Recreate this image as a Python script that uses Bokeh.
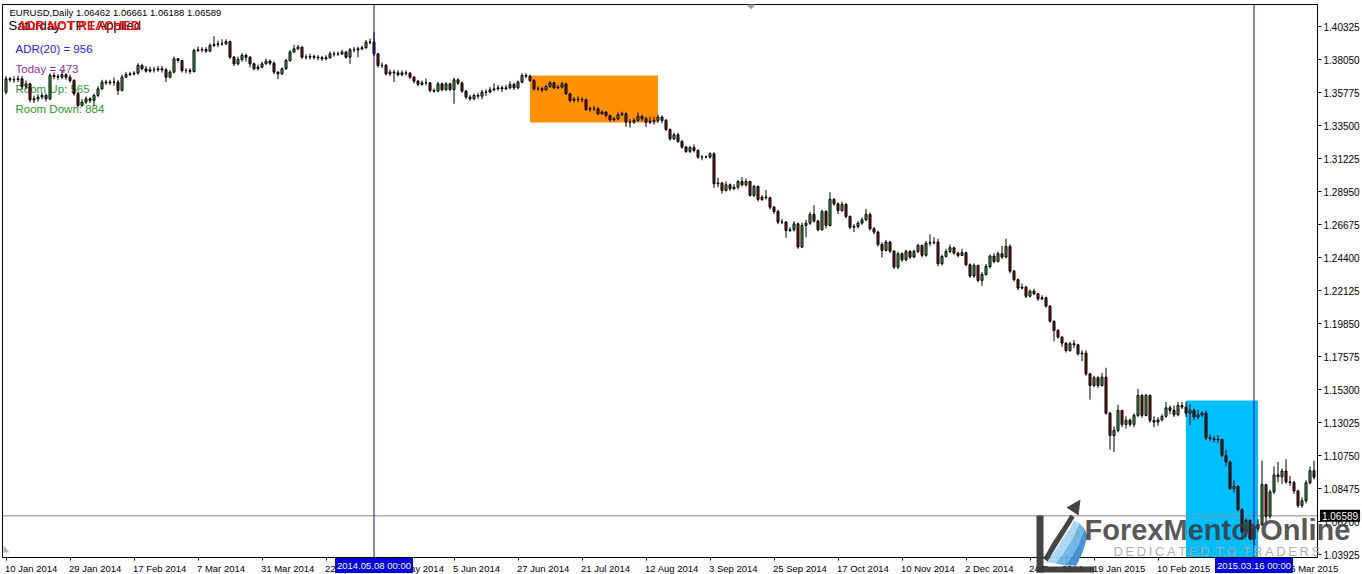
from bokeh.plotting import figure
from bokeh.models import (ColumnDataSource, Range1d, FixedTicker, PrintfTickFormatter,
                          Span, Label, BoxAnnotation, PolyAnnotation)
from bokeh.embed import file_html
from bokeh.resources import INLINE

# ---------------- data (prices x 10000) ----------------
symbol_text = "EURUSD,Daily"
last_ohlc = ["1.06462", "1.06661", "1.06188", "1.06589"]
current_price = 1.06589

first_open = 13580
close_pts = [
    13672, 13665, 13667, 13672, 13619, 13637, 13527, 13534, 13546, 13557,
    13534, 13695, 13688, 13683, 13700, 13683, 13660, 13569, 13488, 13511,
    13534, 13523, 13557, 13603, 13649, 13644, 13649, 13649, 13592, 13683,
    13702, 13706, 13711, 13764, 13741, 13725, 13734, 13734, 13741, 13734,
    13683, 13718, 13810, 13798, 13729, 13729, 13722, 13867, 13872, 13874,
    13863, 13902, 13909, 13913, 13913, 13929, 13821, 13775, 13805, 13833,
    13821, 13775, 13741, 13752, 13775, 13794, 13780, 13718, 13706, 13741,
    13798, 13856, 13879, 13890, 13821, 13821, 13826, 13821, 13817, 13810,
    13817, 13844, 13844, 13844, 13856, 13821, 13872, 13872, 13879, 13886,
    13925, 13925, 13844, 13764, 13764, 13706, 13718, 13713, 13700, 13713,
    13711, 13683, 13656, 13633, 13644, 13644, 13592, 13587, 13637, 13596,
    13637, 13598, 13665, 13642, 13587, 13546, 13534, 13557, 13552, 13580,
    13580, 13596, 13603, 13610, 13603, 13610, 13633, 13610, 13649, 13695,
    13690, 13660, 13603, 13603, 13596, 13619, 13644, 13610, 13615, 13637,
    13569, 13523, 13530, 13530, 13527, 13461, 13465, 13465, 13431, 13442,
    13419, 13389, 13396, 13424, 13431, 13373, 13373, 13385, 13412, 13396,
    13373, 13380, 13385, 13408, 13385, 13322, 13258, 13286, 13240, 13201,
    13171, 13198, 13178, 13132, 13132, 13132, 13155, 12948, 12953, 12902,
    12941, 12914, 12925, 12964, 12941, 12964, 12868, 12930, 12840, 12856,
    12852, 12787, 12757, 12684, 12684, 12626, 12631, 12672, 12512, 12661,
    12677, 12737, 12691, 12631, 12757, 12661, 12840, 12810, 12764, 12806,
    12723, 12649, 12654, 12677, 12700, 12737, 12638, 12615, 12530, 12489,
    12546, 12484, 12374, 12466, 12424, 12482, 12443, 12482, 12523, 12455,
    12538, 12542, 12546, 12397, 12447, 12482, 12507, 12470, 12454, 12473,
    12390, 12312, 12385, 12282, 12323, 12378, 12450, 12413, 12466, 12443,
    12516, 12346, 12287, 12229, 12235, 12173, 12208, 12190, 12155, 12162,
    12105, 12001, 11937, 11891, 11850, 11799, 11845, 11838, 11776, 11781,
    11638, 11558, 11611, 11558, 11615, 11367, 11213, 11248, 11386, 11289,
    11318, 11290, 11351, 11489, 11351, 11489, 11317, 11305, 11321, 11344,
    11404, 11386, 11356, 11420, 11409, 11367, 11386, 11340, 11356, 11367,
    11197, 11190, 11183, 11186, 11076, 11030, 10846, 10862, 10701, 10547,
    10628, 10501, 10569, 10598, 10874, 10656, 10824, 10941, 10929, 10968,
    10893, 10888, 10831, 10731, 10763, 10887, 10970, 10925,
]
high_pts = [
    13690, 13685, 13690, 13695, 13690, 13660, 13645, 13555, 13565, 13575,
    13570, 13710, 13715, 13705, 13725, 13710, 13700, 13670, 13580, 13530,
    13550, 13545, 13570, 13620, 13665, 13665, 13665, 13680, 13665, 13700,
    13720, 13720, 13725, 13780, 13775, 13760, 13755, 13755, 13760, 13760,
    13745, 13730, 13825, 13815, 13805, 13745, 13745, 13880, 13895, 13890,
    13890, 13915, 13965, 13935, 13945, 13945, 13935, 13830, 13825, 13850,
    13845, 13830, 13785, 13770, 13790, 13810, 13805, 13790, 13725, 13750,
    13810, 13870, 13905, 13905, 13895, 13840, 13845, 13840, 13835, 13830,
    13835, 13860, 13860, 13860, 13870, 13865, 13885, 13890, 13895, 13900,
    13940, 13950, 13993, 13850, 13785, 13775, 13735, 13735, 13730, 13730,
    13730, 13720, 13690, 13665, 13660, 13675, 13650, 13605, 13650, 13645,
    13650, 13645, 13680, 13675, 13655, 13595, 13560, 13570, 13575, 13595,
    13600, 13615, 13640, 13630, 13625, 13630, 13655, 13645, 13660, 13710,
    13710, 13700, 13670, 13620, 13615, 13630, 13655, 13650, 13630, 13650,
    13645, 13575, 13545, 13550, 13545, 13535, 13480, 13485, 13475, 13455,
    13450, 13425, 13410, 13440, 13445, 13440, 13395, 13400, 13440, 13425,
    13410, 13410, 13410, 13425, 13420, 13395, 13330, 13300, 13300, 13250,
    13210, 13210, 13220, 13185, 13145, 13145, 13165, 13165, 12990, 12960,
    12965, 12950, 12945, 12975, 12995, 12985, 12970, 12940, 12935, 12870,
    12905, 12860, 12795, 12770, 12705, 12690, 12650, 12690, 12680, 12680,
    12700, 12755, 12800, 12700, 12770, 12765, 12890, 12850, 12820, 12825,
    12815, 12730, 12670, 12690, 12715, 12775, 12750, 12650, 12625, 12545,
    12560, 12555, 12490, 12480, 12475, 12495, 12490, 12495, 12535, 12530,
    12555, 12600, 12580, 12570, 12460, 12500, 12530, 12515, 12480, 12500,
    12480, 12400, 12400, 12390, 12340, 12395, 12460, 12470, 12480, 12520,
    12570, 12530, 12355, 12295, 12260, 12245, 12220, 12225, 12195, 12180,
    12170, 12110, 12005, 11945, 11900, 11855, 11860, 11870, 11845, 11800,
    11800, 11645, 11625, 11620, 11645, 11680, 11375, 11275, 11425, 11390,
    11345, 11330, 11365, 11535, 11500, 11500, 11495, 11345, 11340, 11360,
    11445, 11420, 11420, 11445, 11445, 11445, 11430, 11400, 11390, 11380,
    11385, 11220, 11210, 11215, 11190, 11115, 11040, 10905, 10870, 10710,
    10645, 10635, 10580, 10635, 11040, 10880, 10840, 11000, 11030, 10985,
    11050, 10935, 10900, 10840, 10785, 10905, 11000, 11040,
]
low_pts = [
    13565, 13650, 13645, 13650, 13600, 13600, 13510, 13505, 13515, 13530,
    13515, 13525, 13670, 13665, 13670, 13665, 13645, 13555, 13475, 13480,
    13500, 13505, 13485, 13545, 13595, 13630, 13630, 13625, 13560, 13585,
    13680, 13690, 13695, 13700, 13730, 13715, 13715, 13715, 13720, 13715,
    13650, 13675, 13710, 13785, 13715, 13710, 13705, 13715, 13855, 13855,
    13850, 13855, 13890, 13890, 13900, 13905, 13810, 13760, 13765, 13790,
    13790, 13750, 13730, 13730, 13745, 13770, 13765, 13705, 13670, 13700,
    13735, 13790, 13855, 13870, 13810, 13805, 13805, 13805, 13800, 13795,
    13800, 13810, 13825, 13830, 13835, 13810, 13775, 13855, 13820, 13870,
    13880, 13910, 13830, 13750, 13745, 13695, 13690, 13650, 13690, 13690,
    13695, 13670, 13640, 13620, 13625, 13630, 13580, 13575, 13580, 13585,
    13590, 13585, 13500, 13630, 13575, 13530, 13520, 13525, 13535, 13530,
    13555, 13575, 13585, 13590, 13580, 13595, 13600, 13595, 13600, 13640,
    13675, 13650, 13590, 13590, 13580, 13590, 13610, 13600, 13600, 13605,
    13560, 13510, 13510, 13510, 13510, 13450, 13445, 13450, 13420, 13425,
    13405, 13375, 13380, 13385, 13415, 13340, 13335, 13360, 13375, 13380,
    13340, 13360, 13355, 13370, 13365, 13310, 13245, 13250, 13230, 13190,
    13160, 13160, 13165, 13120, 13110, 13125, 13120, 12920, 12925, 12880,
    12895, 12900, 12905, 12910, 12930, 12930, 12860, 12855, 12825, 12830,
    12840, 12770, 12740, 12670, 12670, 12575, 12615, 12620, 12500, 12505,
    12580, 12665, 12680, 12620, 12625, 12640, 12655, 12795, 12740, 12755,
    12710, 12635, 12615, 12640, 12665, 12690, 12625, 12600, 12515, 12440,
    12480, 12470, 12360, 12360, 12410, 12415, 12430, 12435, 12470, 12440,
    12445, 12520, 12530, 12380, 12385, 12440, 12470, 12460, 12440, 12450,
    12380, 12300, 12300, 12270, 12245, 12315, 12365, 12400, 12405, 12430,
    12435, 12330, 12275, 12215, 12220, 12160, 12165, 12180, 12140, 12145,
    12095, 11990, 11862, 11880, 11825, 11785, 11790, 11815, 11765, 11725,
    11625, 11460, 11545, 11540, 11550, 11355, 11115, 11098, 11235, 11270,
    11260, 11275, 11270, 11340, 11335, 11345, 11300, 11270, 11280, 11310,
    11335, 11360, 11340, 11345, 11395, 11340, 11285, 11320, 11325, 11340,
    11180, 11175, 11165, 11160, 11065, 11000, 10840, 10820, 10690, 10495,
    10515, 10490, 10458, 10550, 10590, 10615, 10640, 10810, 10890, 10880,
    10880, 10865, 10810, 10715, 10715, 10745, 10875, 10910,
]

date_tick_bars = [0, 16, 32, 48, 64, 80, 96, 112, 128, 144, 160, 176, 192,
                  208, 224, 240, 256, 272, 288, 304, 320]
date_tick_labels = ["10 Jan 2014", "29 Jan 2014", "17 Feb 2014", "7 Mar 2014",
                    "31 Mar 2014", "22 Apr 2014", "14 May 2014", "5 Jun 2014",
                    "27 Jun 2014", "21 Jul 2014", "12 Aug 2014", "3 Sep 2014",
                    "25 Sep 2014", "17 Oct 2014", "10 Nov 2014", "2 Dec 2014",
                    "24 Dec 2014", "19 Jan 2015", "10 Feb 2015", "4 Mar 2015",
                    "26 Mar 2015"]
price_ticks = [1.03925, 1.06200, 1.08475, 1.10750, 1.13025, 1.15300, 1.17575,
               1.19850, 1.22125, 1.24400, 1.26675, 1.28950, 1.31225, 1.33500,
               1.35775, 1.38050, 1.40325]

vline_bars = [92, 312]
vline_labels = ["2014.05.08 00:00", "2015.03.16 00:00"]

orange_zone_bars = [131, 163]
orange_zone_prices = [1.3371, 1.3695]
cyan_zone_bars = [295, 313]
cyan_zone_top = 1.1454

adr_status = "ADR NOT REACHED"
signal_text = "Saturday: TP 1 Applied"
adr_lines = ["ADR(20) = 956", "Today = 473", "Room Up: 565", "Room Down: 884"]
adr_colors = ["#2424E0", "#9A2C9A", "#2E9A2E", "#2E9A2E"]

# ---------------- layout ----------------
W, H = 1362, 574
FL, FT, FW, FH = 2, 4, 1315, 553
BAR_PX, BAR0_PX = 4.0, 5.5
PPP = 0.02275 / 33.0
TICK0_PY = 554
x_lo = (FL - BAR0_PX) / BAR_PX
x_hi = x_lo + FW / BAR_PX
y_lo = price_ticks[0] - (FT + FH - TICK0_PY) * PPP
y_hi = y_lo + FH * PPP


def dx(px):
    return x_lo + (px - FL) / BAR_PX


def dy(py):
    return y_lo + (FT + FH - py) * PPP


def bar_px(b):
    return BAR0_PX + BAR_PX * b


def price_py(v):
    return TICK0_PY - (v - price_ticks[0]) / PPP


FONT = "Liberation Sans"
CW = {' ': .278, '.': .278, ':': .278, 'J': .5, 'a': .556, 'n': .556, 'F': .611,
      'e': .556, 'b': .556, 'M': .833, 'r': .333, 'A': .667, 'p': .556, 'y': .5,
      'u': .556, 'l': .222, 'g': .556, 'S': .667, 'O': .778, 'c': .5, 't': .278,
      'N': .722, 'v': .5, 'o': .556, 'D': .722}


def text_w(s, size):
    return sum(CW.get(ch, 0.556) for ch in s) * size


p = figure(frame_width=FW, frame_height=FH,
           x_range=Range1d(x_lo, x_hi), y_range=Range1d(y_lo, y_hi),
           y_axis_location="right", toolbar_location=None, output_backend="svg",
           min_border_left=FL, min_border_top=FT, min_border_right=W - FL - FW,
           min_border_bottom=H - FT - FH, outline_line_color="black",
           background_fill_color="white", border_fill_color="white")
p.styles = {"position": "absolute", "left": "0px", "top": "0px"}
p.xgrid.visible = False
p.ygrid.visible = False

# zones (background)
p.add_layout(BoxAnnotation(left=orange_zone_bars[0], right=orange_zone_bars[1],
                           bottom=orange_zone_prices[0], top=orange_zone_prices[1],
                           fill_color="#FF9000", fill_alpha=1.0, line_color=None,
                           level="underlay"))
p.add_layout(BoxAnnotation(left=cyan_zone_bars[0], right=cyan_zone_bars[1],
                           top=cyan_zone_top, fill_color="#00BFFF", fill_alpha=1.0,
                           line_color=None, level="underlay"))
p.add_layout(Span(location=current_price, dimension="width", line_color="#8C8C8C",
                  line_width=1, level="underlay"))

# header texts
p.add_layout(Label(x=dx(9), y=dy(12), text=symbol_text + "  " + " ".join(last_ohlc),
                   text_font=FONT, text_font_size="9.5px", text_color="black",
                   text_baseline="middle", text_align="left", level="underlay"))
p.add_layout(Label(x=dx(8), y=dy(25), text=signal_text, text_font=FONT,
                   text_font_size="13px", text_color="black",
                   text_baseline="middle", text_align="left", level="underlay"))
p.add_layout(Label(x=dx(17), y=dy(25), text=adr_status, text_font=FONT,
                   text_font_style="bold", text_font_size="12.5px", text_color="#F01010",
                   text_baseline="middle", text_align="left", level="underlay"))
for k, (t, col) in enumerate(zip(adr_lines, adr_colors)):
    p.add_layout(Label(x=dx(15), y=dy(48 + 20 * k), text=t, text_font=FONT,
                       text_font_size="11.5px", text_color=col,
                       text_baseline="middle", text_align="left", level="underlay"))

# candles
n = min(len(close_pts), len(high_pts), len(low_pts))
open_pts = [first_open] + close_pts[:n - 1]   # each day opens at prior close
o = [v / 1e4 for v in open_pts[:n]]
c = [v / 1e4 for v in close_pts[:n]]
h = [v / 1e4 for v in high_pts[:n]]
lo = [v / 1e4 for v in low_pts[:n]]
src = ColumnDataSource(dict(
    x=list(range(n)), o=o, c=c, h=h, l=lo,
    top=[max(a, b) for a, b in zip(o, c)], bottom=[min(a, b) for a, b in zip(o, c)],
    fill=["#4CB04C" if b > a else ("#8B1A1A" if b < a else "black") for a, b in zip(o, c)],
))
p.segment(x0="x", y0="l", x1="x", y1="h", source=src, line_color="black", line_width=1)
p.vbar(x="x", width=0.5, top="top", bottom="bottom", source=src, fill_color="fill",
       line_color="black", line_width=1)

# vertical lines
for b in vline_bars:
    p.add_layout(Span(location=b, dimension="height", line_color="#0A0AA0",
                      line_width=1, level="overlay"))

# axes
ya = p.yaxis[0]
ya.ticker = FixedTicker(ticks=price_ticks)
ya.formatter = PrintfTickFormatter(format="%.5f")
ya.major_tick_out = 4
ya.major_tick_in = 0
ya.minor_tick_out = 0
ya.minor_tick_in = 0
ya.major_label_standoff = 2
ya.major_label_text_font = FONT
ya.major_label_text_font_size = "10px"
ya.major_label_text_color = "black"
ya.axis_line_color = "black"
ya.major_tick_line_color = "black"

centers = [round(b + (text_w(t, 9.5) / 2.0 - 1.0) / BAR_PX, 4)
           for b, t in zip(date_tick_bars, date_tick_labels)]
xa = p.xaxis[0]
xa.ticker = FixedTicker(ticks=centers, minor_ticks=date_tick_bars)
xa.major_label_overrides = {cx: t for cx, t in zip(centers, date_tick_labels)}
xa.major_tick_out = 0
xa.major_tick_in = 0
xa.minor_tick_out = 3
xa.minor_tick_in = 0
xa.minor_tick_line_color = "black"
xa.major_label_standoff = 2
xa.major_label_text_font = FONT
xa.major_label_text_font_size = "9.5px"
xa.major_label_text_color = "black"
xa.axis_line_color = "black"

# ---------------- transparent overlay in page pixels (for marks outside the frame) ----
q = figure(width=W, height=H, x_range=Range1d(0, W), y_range=Range1d(H, 0),
           toolbar_location=None, output_backend="svg", min_border=0,
           x_axis_location=None, y_axis_location=None, outline_line_color=None,
           background_fill_alpha=0, border_fill_alpha=0)
q.styles = {"position": "absolute", "left": "0px", "top": "0px"}
q.grid.visible = False

LOGO_DARK = "#3A3A3A"


def poly(fig, pts, color, alpha=1.0):
    fig.add_layout(PolyAnnotation(xs=[a for a, b in pts], ys=[b for a, b in pts],
                                  fill_color=color, fill_alpha=alpha, line_color=None))


# logo
poly(q, [(1046, 562), (1056, 548), (1066, 533), (1074, 520), (1079, 523), (1072, 538),
         (1063, 553), (1055, 563)], "#A9D6F2", 0.95)
poly(q, [(1055, 563), (1063, 553), (1072, 538), (1079, 523), (1084, 528), (1078, 544),
         (1070, 558), (1064, 565)], "#6CB4E4", 0.95)
poly(q, [(1064, 565), (1070, 558), (1078, 544), (1084, 528), (1087, 536), (1082, 552),
         (1076, 565)], "#3E8FCF", 0.95)
poly(q, [(1043, 558), (1052, 542), (1062, 527), (1070, 514), (1074, 517), (1066, 530),
         (1056, 546), (1047, 561)], LOGO_DARK, 0.95)
poly(q, [(1066, 507), (1080, 499), (1078, 515)], LOGO_DARK, 0.95)
poly(q, [(1036, 515), (1043, 515), (1043, 572), (1036, 572)], LOGO_DARK, 0.95)
poly(q, [(1036, 566), (1094, 566), (1094, 572), (1036, 572)], LOGO_DARK, 0.95)
q.add_layout(Label(x=1084, y=529, text="ForexMentorOnline", text_font=FONT,
                   text_font_style="bold", text_font_size="29px", text_color=LOGO_DARK,
                   text_alpha=0.85, text_baseline="middle", text_align="left"))
q.add_layout(Label(x=1113, y=551,
                   text="\u2009".join("DEDICATED") + " \u2009" + "\u2009".join("TO") + " \u2009" + "\u2009".join("TRADERS"),
                   text_font=FONT, text_font_size="13px", text_color="#A8A8A8",
                   text_alpha=0.9, text_baseline="middle", text_align="left"))

# boxed labels on the axes
for b, t in zip(vline_bars, vline_labels):
    q.add_layout(Label(x=bar_px(b), y=565, text=t, text_font=FONT, text_font_size="9.5px",
                       text_color="white", text_align="center", text_baseline="middle",
                       background_fill_color="#0000DD", padding=2))
q.add_layout(Label(x=(FL + FW + W) / 2.0, y=price_py(current_price),
                   text=f"{current_price:.5f}", text_font=FONT, text_font_size="10px",
                   text_color="white", text_align="center", text_baseline="middle",
                   background_fill_color="black", padding=2))

# small chart markers
poly(q, [(746, 4), (755, 4), (750.5, 9)], "#A0A0A0")
poly(q, [(3, 545), (3, 552), (9, 552)], "#B0B0B0")

open("out.html", "w").write(file_html([p, q], INLINE))
